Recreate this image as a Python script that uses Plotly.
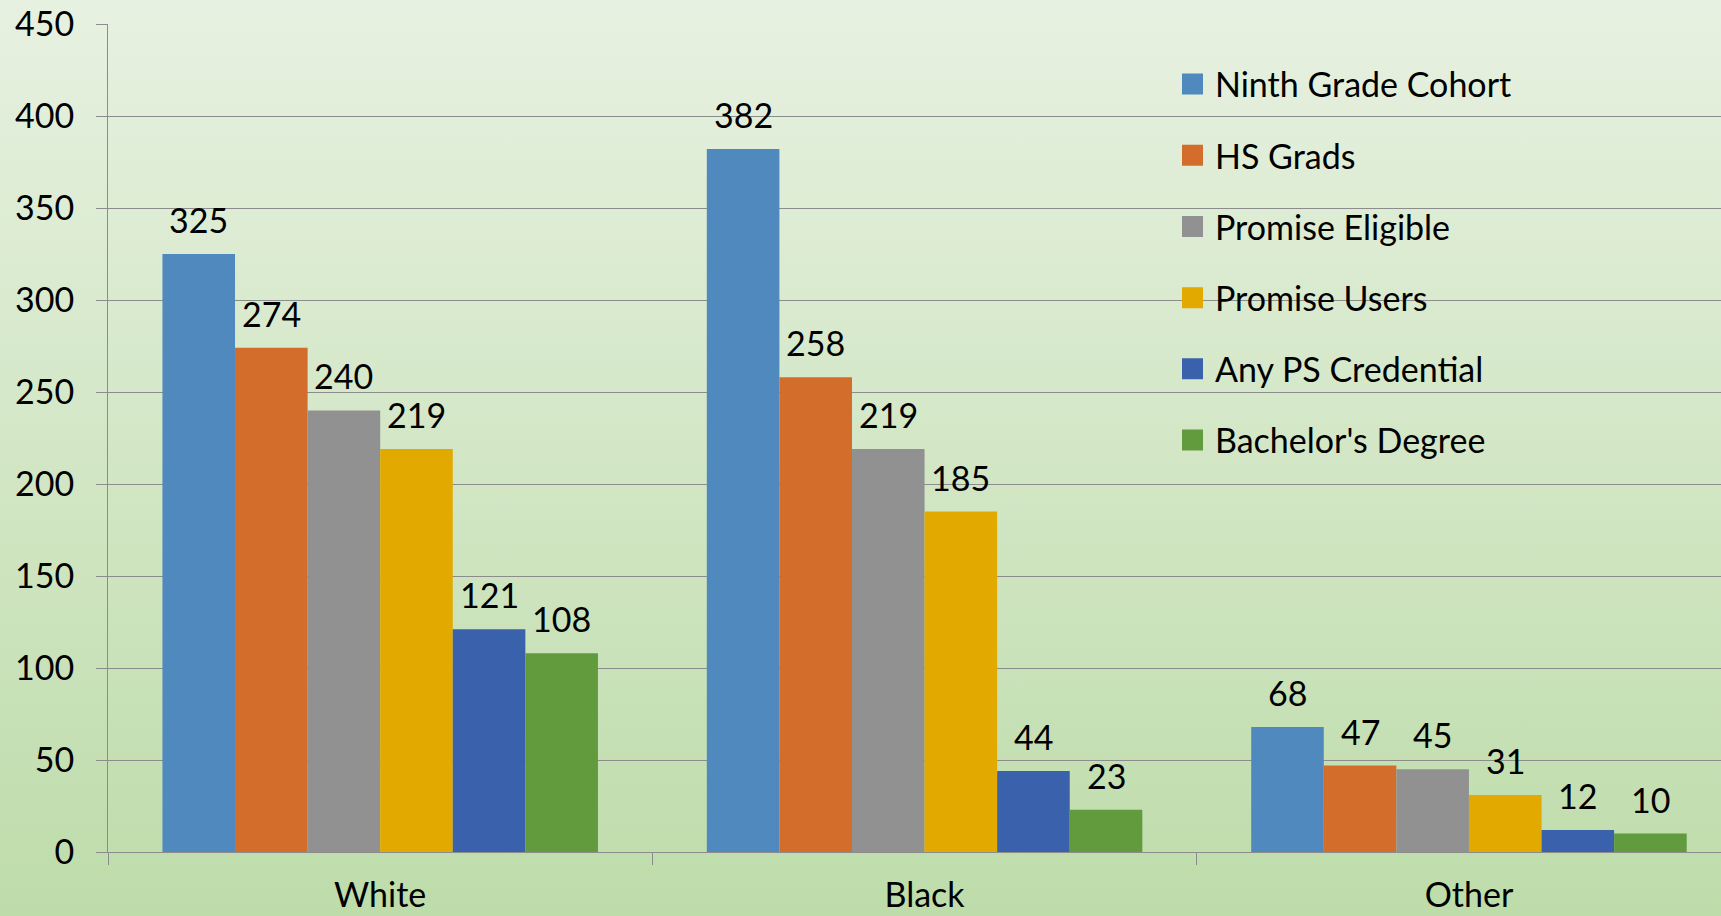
import base64
import plotly.graph_objects as go

categories = ["White", "Black", "Other"]
series_names = ["Ninth Grade Cohort", "HS Grads", "Promise Eligible",
                "Promise Users", "Any PS Credential", "Bachelor's Degree"]
ninth_grade = [325, 382, 68]
hs_grads = [274, 258, 47]
promise_eligible = [240, 219, 45]
promise_users = [219, 185, 31]
any_ps_credential = [121, 44, 12]
bachelors = [108, 23, 10]
y_ticks = [0, 50, 100, 150, 200, 250, 300, 350, 400, 450]

series_values = [ninth_grade, hs_grads, promise_eligible,
                 promise_users, any_ps_credential, bachelors]
colors = ["#4f89bd", "#d36d2b", "#919191", "#e2a900", "#3a62ac", "#629a3e"]

W, H = 1721, 916
ML, MR, MT, MB = 108, 0, 24, 64
FONT = "Lato"
FS = 34
BARGAP = 0.2

fig = go.Figure()
for name, vals, col in zip(series_names, series_values, colors):
    fig.add_trace(go.Bar(x=categories, y=vals, name=name, marker_color=col,
                         marker_line_width=0, showlegend=False))
# legend-only entries (bigger square swatches)
for name, col in zip(series_names, colors):
    fig.add_trace(go.Scatter(x=[None], y=[None], mode="markers", name=name,
                             legendgroup=name,
                             marker=dict(symbol="square", size=16, color=col,
                                         line=dict(width=5, color=col))))

# data labels
n = len(series_names)
bw = (1 - BARGAP) / n
annotations = []
for i, vals in enumerate(series_values):
    for j, v in enumerate(vals):
        annotations.append(dict(
            x=j - (1 - BARGAP) / 2 + (i + 0.5) * bw, y=v, xref="x", yref="y",
            text=str(v), showarrow=False, yanchor="bottom", yshift=12,
            font=dict(family=FONT, size=FS, color="#000000")))

# gradient background as inline SVG
svg = ('<svg xmlns="http://www.w3.org/2000/svg" width="100" height="100" preserveAspectRatio="none">'
       '<defs><linearGradient id="g" x1="0" y1="0" x2="0" y2="1">'
       '<stop offset="0" stop-color="#e7f1e1"/><stop offset="1" stop-color="#bedcaa"/>'
       '</linearGradient></defs><rect width="100" height="100" fill="url(#g)"/></svg>')
src = "data:image/svg+xml;base64," + base64.b64encode(svg.encode()).decode()
pw, ph = W - ML - MR, H - MT - MB

fig.update_layout(
    width=W, height=H,
    margin=dict(l=ML, r=MR, t=MT, b=MB, pad=0, autoexpand=False),
    paper_bgcolor="#d3e7c5", plot_bgcolor="rgba(0,0,0,0)",
    barmode="group", bargap=BARGAP, bargroupgap=0,
    font=dict(family=FONT, size=FS, color="#000000"),
    images=[dict(source=src, xref="paper", yref="paper",
                 x=-ML / pw, y=1 + MT / ph, sizex=W / pw, sizey=H / ph,
                 xanchor="left", yanchor="top", sizing="stretch", layer="below")],
    legend=dict(x=(1170 - ML) / pw, xanchor="left", y=0.962, yanchor="top",
                bgcolor="rgba(0,0,0,0)", font=dict(family=FONT, size=FS),
                tracegroupgap=24, itemsizing="trace", itemwidth=35),
    annotations=annotations,
    showlegend=True,
)
fig.update_xaxes(type="category", range=[-0.5, 2.463], showgrid=False,
                 automargin=False,
                 showline=True, linecolor="#8c8c8c", linewidth=1,
                 ticks="outside", tickson="boundaries", ticklen=12,
                 tickcolor="#8c8c8c", ticklabelstandoff=13,
                 tickfont=dict(family=FONT, size=FS, color="#000000"))
fig.update_yaxes(range=[0, 450], tickvals=y_ticks, showgrid=True,
                 automargin=False,
                 gridcolor="#8c8c8c", gridwidth=1, zeroline=False,
                 showline=True, linecolor="#8c8c8c", linewidth=1,
                 ticks="outside", ticklen=11, tickcolor="#8c8c8c",
                 ticklabelstandoff=15,
                 tickfont=dict(family=FONT, size=FS, color="#000000"))

fig.write_html("out.html", config={"displayModeBar": False},
               post_script="document.body.style.margin='0';")
